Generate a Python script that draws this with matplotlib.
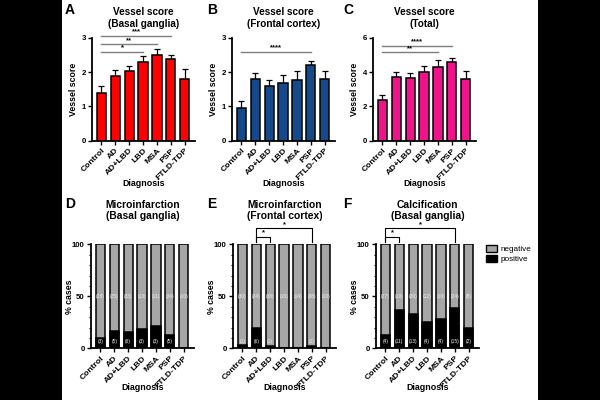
import numpy as np
import matplotlib
matplotlib.use("Agg")
import matplotlib.pyplot as plt
from matplotlib.patches import Patch
from matplotlib.ticker import MultipleLocator

plt.rcParams['font.family'] = ['Liberation Sans', 'DejaVu Sans']

groups = ["Control", "AD", "AD+LBD", "LBD", "MSA", "PSP", "FTLD-TDP"]

# vessel scores (mean, upper error)
bg_mean = [1.39, 1.90, 2.05, 2.31, 2.50, 2.39, 1.80]
bg_err = [0.20, 0.16, 0.13, 0.15, 0.18, 0.11, 0.29]
fc_mean = [0.96, 1.79, 1.60, 1.68, 1.78, 2.20, 1.79]
fc_err = [0.21, 0.19, 0.18, 0.25, 0.25, 0.14, 0.26]
tot_mean = [2.35, 3.72, 3.67, 4.04, 4.31, 4.60, 3.63]
tot_err = [0.34, 0.32, 0.29, 0.33, 0.39, 0.26, 0.47]

# case counts (positive / negative)
mi_bg_pos = [3, 5, 6, 3, 3, 5, 0]
mi_bg_neg = [28, 25, 33, 13, 11, 34, 10]
mi_fc_pos = [1, 6, 1, 0, 0, 1, 0]
mi_fc_neg = [30, 24, 38, 16, 14, 38, 10]
ca_bg_pos = [4, 11, 13, 4, 4, 15, 2]
ca_bg_neg = [27, 19, 26, 12, 10, 24, 8]

# significance: (group_a, group_b, y, stars)
sig_a = [(0, 5, 3.06, "***"), (0, 4, 2.82, "**"), (0, 3, 2.59, "*")]
sig_b = [(0, 5, 2.59, "****")]
sig_c = [(0, 5, 5.53, "****"), (0, 4, 5.16, "**")]
sig_e = [(1, 2, 107, 102.5, "*"), (1, 5, 115.5, 102.5, "*")]
sig_f = [(0, 1, 107, 102.5, "*"), (0, 5, 115.5, 102.5, "*")]

W, H = 600, 400
fig = plt.figure(figsize=(6, 4), dpi=100, facecolor='black')
# white page in the middle, black margins left and right
page = fig.add_axes([62 / W, 0, 476 / W, 1], zorder=-10)
page.set_facecolor('white')
page.set_xticks([])
page.set_yticks([])
for s in page.spines.values():
    s.set_visible(False)


def px_axes(left, top, right, bottom):
    return fig.add_axes([left / W, 1 - bottom / H, (right - left) / W, (bottom - top) / H])


def style(ax, ylabel, ylab_x, xlab_y):
    ax.set_facecolor('none')
    for s in ['top', 'right']:
        ax.spines[s].set_visible(False)
    for s in ['left', 'bottom']:
        ax.spines[s].set_linewidth(1.3)
    ax.tick_params(axis='both', direction='out', length=3, width=1, labelsize=5.6, pad=1.5)
    ax.tick_params(axis='x', labelsize=6.1)
    ax.tick_params(axis='y', which='minor', length=1.8, width=0.8)
    ax.set_xlim(-0.68, 6.74)
    ax.set_xticks(range(len(groups)))
    ax.set_xticklabels(groups, rotation=45, ha='right', rotation_mode='anchor',
                       fontweight='bold')
    for lab in ax.get_yticklabels():
        lab.set_fontweight('bold')
    ax.set_xlabel("Diagnosis", fontsize=6.4, fontweight='bold')
    ax.set_ylabel(ylabel, fontsize=6.3, fontweight='bold')
    ax.xaxis.set_label_coords(0.5, xlab_y)
    ax.yaxis.set_label_coords(ylab_x, 0.5)


def score_panel(ax, mean, err, color, ymax, step, title, sigs):
    x = np.arange(len(groups))
    ax.bar(x, mean, width=0.67, color=color, edgecolor='black', linewidth=1.1, zorder=2)
    ax.errorbar(x, mean, yerr=[np.zeros(len(err)), err], fmt='none', ecolor='black',
                elinewidth=0.9, capsize=2, capthick=0.9, zorder=1)
    ax.set_ylim(0, ymax)
    ax.set_yticks(np.arange(0, ymax + 0.01, step))
    style(ax, "Vessel score", -0.14, -0.37)
    ax.set_title(title, fontsize=7.2, fontweight='bold', pad=8)
    for a, b, y, s in sigs:
        ax.plot([a, b], [y, y], color='#7f7f7f', lw=1, clip_on=False)
        ax.text((a + b) / 2, y + ymax * 0.004, s, ha='center', va='bottom',
                fontsize=5.5, fontweight='bold')


def percent_panel(ax, pos, neg, title, sigs):
    x = np.arange(len(groups))
    pos = np.array(pos)
    neg = np.array(neg)
    pct = pos / (pos + neg) * 100
    ax.bar(x, [100] * len(groups), width=0.67, color='#a6a6a6', edgecolor='black',
           linewidth=1.1, zorder=2)
    ax.bar(x, pct, width=0.67, color='black', edgecolor='black', linewidth=1.1, zorder=3)
    for i in range(len(groups)):
        ax.text(i, 50, f"({neg[i]})", ha='center', va='center', fontsize=3.5,
                color='#f2f2f2', zorder=4)
        if pos[i] > 0:
            ax.text(i, 6.5, f"({pos[i]})", ha='center', va='center', fontsize=3.5,
                    color='#f2f2f2', zorder=4)
    ax.set_ylim(0, 100)
    ax.set_yticks([0, 50, 100])
    ax.yaxis.set_minor_locator(MultipleLocator(10))
    style(ax, "% cases", -0.165, -0.335)
    ax.set_title(title, fontsize=7.4, fontweight='bold', pad=18)
    for a, b, y, y0, s in sigs:
        ax.plot([a, a, b, b], [y0, y, y, y0], color='black', lw=0.8, clip_on=False)
        ax.text((a + b) / 2, y + 0.3, s, ha='center', va='bottom', fontsize=5.5,
                fontweight='bold')


axA = px_axes(92, 38, 195, 140.7)
axB = px_axes(232, 38, 335, 140.7)
axC = px_axes(373, 38, 476, 140.7)
axD = px_axes(91, 244.3, 194, 348.3)
axE = px_axes(233, 244.3, 336, 348.3)
axF = px_axes(376, 244.3, 479, 348.3)

score_panel(axA, bg_mean, bg_err, '#ff0000', 3, 1, "Vessel score\n(Basal ganglia)", sig_a)
score_panel(axB, fc_mean, fc_err, '#144a8c', 3, 1, "Vessel score\n(Frontal cortex)", sig_b)
score_panel(axC, tot_mean, tot_err, '#f0148c', 6, 2, "Vessel score\n(Total)", sig_c)
percent_panel(axD, mi_bg_pos, mi_bg_neg, "Microinfarction\n(Basal ganglia)", [])
percent_panel(axE, mi_fc_pos, mi_fc_neg, "Microinfarction\n(Frontal cortex)", sig_e)
percent_panel(axF, ca_bg_pos, ca_bg_neg, "Calcification\n(Basal ganglia)", sig_f)

for lab, xp, yp in [("A", 70, 10), ("B", 212, 10), ("C", 348, 10),
                    ("D", 70, 204), ("E", 212, 204), ("F", 347, 204)]:
    fig.text(xp / W, 1 - yp / H, lab, fontsize=10, fontweight='bold',
             ha='center', va='center')

handles = [Patch(facecolor='#a6a6a6', edgecolor='black', linewidth=1),
           Patch(facecolor='black', edgecolor='black', linewidth=1)]
fig.legend(handles, ["negative", "positive"], loc='upper left',
           bbox_to_anchor=(482 / W, 1 - 241 / H), frameon=False, fontsize=5.9,
           borderpad=0, handlelength=1.3, handleheight=0.9, labelspacing=0.2,
           handletextpad=0.5)

fig.savefig("out.png", dpi=100, facecolor=fig.get_facecolor())
